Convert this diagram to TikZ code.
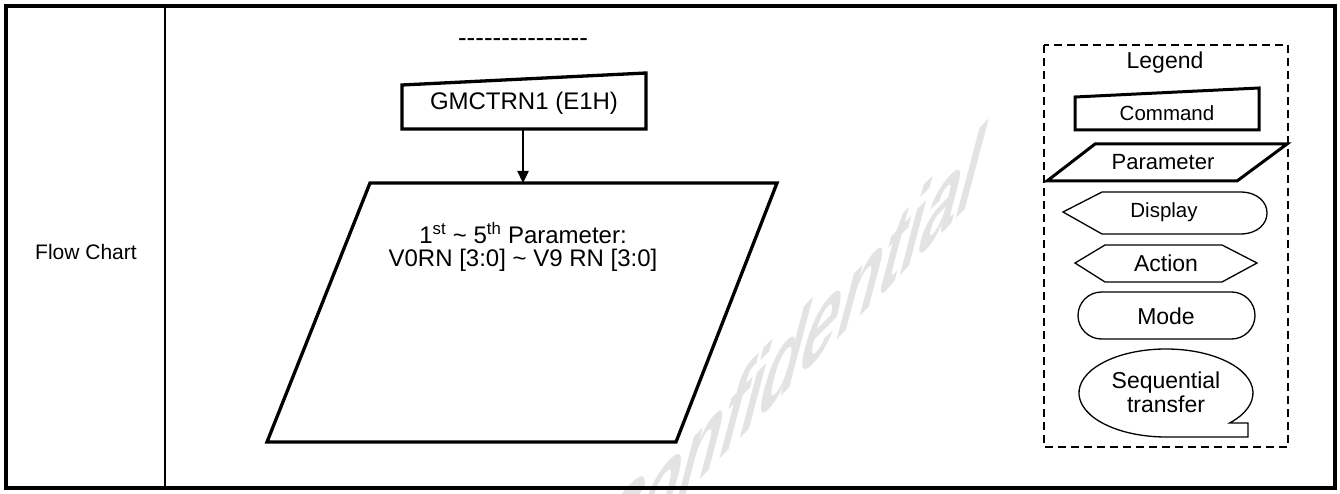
\documentclass[tikz,border=0pt]{standalone}
\usepackage{fontspec}
\setmainfont{Liberation Sans}
\usetikzlibrary{arrows.meta}
\newcommand{\fsz}[1]{\fontsize{#1}{#1}\selectfont}
\tikzset{
  thickshape/.style={line width=3.3pt, line join=miter},
  thinshape/.style={line width=1.3pt, line join=miter},
  lbl/.style={inner sep=0pt, align=center},
  flowarrow/.style={line width=2.4pt, -{Triangle[length=12pt,width=11pt]}},
}
\begin{document}
\begin{tikzpicture}[x=1pt,y=1pt]
\useasboundingbox (0,0) rectangle (1340,-494);
\fill[white] (0,0) rectangle (1340,-494);
% watermark
\begin{scope}[shift={(970,-205)}, cm={0.67,0.68,0.33,1.25,(0,0)}]
  \node[transform shape, anchor=base east, inner sep=0pt, text=black!11, font=\fsz{100}\bfseries] (wm) at (0,0) {Confidential};
\end{scope}
% frame
\draw[line width=4pt] (6,-6) rectangle (1335,-488);
\draw[line width=1.4pt] (165,-6) -- (165,-488);
\node[lbl, font=\fsz{21}] (fc) at (86,-252) {Flow Chart};
% dashes
\node[lbl, font=\fsz{26}] (dash) at (523,-43) {-{}-{}-{}-{}-{}-{}-{}-{}-{}-{}-{}-{}-{}-{}-};
% command box
\draw[thickshape] (402,-85) -- (646,-73) -- (646,-129) -- (402,-129) -- cycle;
\node[lbl, font=\fsz{24}] (cmd) at (524,-103) {GMCTRN1 (E1H)};
\coordinate (cmdbot) at (523,-129);
% parameter parallelogram
\draw[thickshape] (370,-183) -- (777,-183) -- (676,-442) -- (267,-442) -- cycle;
\coordinate (partop) at (523,-183);
\node[lbl, font=\fsz{24}] (par1) at (523,-233) {1\textsuperscript{st} \textasciitilde\ 5\textsuperscript{th} Parameter:};
\node[lbl, font=\fsz{24}] (par2) at (523,-260) {V0RN [3:0] \textasciitilde\ V9 RN [3:0]};
\draw[flowarrow] (cmdbot) -- (partop);
% legend
\draw[line width=1.4pt, dash pattern=on 8pt off 5pt] (1044,-45) rectangle (1288,-447);
\node[lbl, font=\fsz{23}] (leg) at (1165,-63) {Legend};
% legend command
\draw[thickshape, line width=3pt] (1075,-97) -- (1259,-88) -- (1259,-130) -- (1075,-130) -- cycle;
\node[lbl, font=\fsz{20.5}] (lcmd) at (1167,-113) {Command};
% legend parameter
\draw[thickshape, line width=3pt] (1095,-144) -- (1287,-144) -- (1237,-181) -- (1047,-181) -- cycle;
\node[lbl, font=\fsz{22}] (lpar) at (1163,-162) {Parameter};
% display
\draw[thinshape] (1063,-212) -- (1102,-192) -- (1240,-192) .. controls (1276,-192) and (1276,-234) .. (1240,-234) -- (1102,-234) -- cycle;
\node[lbl, font=\fsz{20.5}] (ldisp) at (1164,-212) {Display};
% action
\draw[thinshape] (1075,-263) -- (1105,-245) -- (1222,-245) -- (1257,-263) -- (1222,-282) -- (1105,-282) -- cycle;
\node[lbl, font=\fsz{23}] (lact) at (1166,-263) {Action};
% mode
\draw[thinshape, rounded corners=23.5pt] (1078,-292) rectangle (1255,-339);
\node[lbl, font=\fsz{23}] (lmode) at (1166,-316) {Mode};
% sequential transfer
\draw[thinshape] (1229.6,-423) arc[start angle=-43, end angle=270, x radius=87, y radius=44] -- (1248,-437) -- (1248,-423) -- cycle;
\node[lbl, font=\fsz{23}] (lseq) at (1166,-392) {Sequential\\[1pt]transfer};
\end{tikzpicture}
\end{document}
